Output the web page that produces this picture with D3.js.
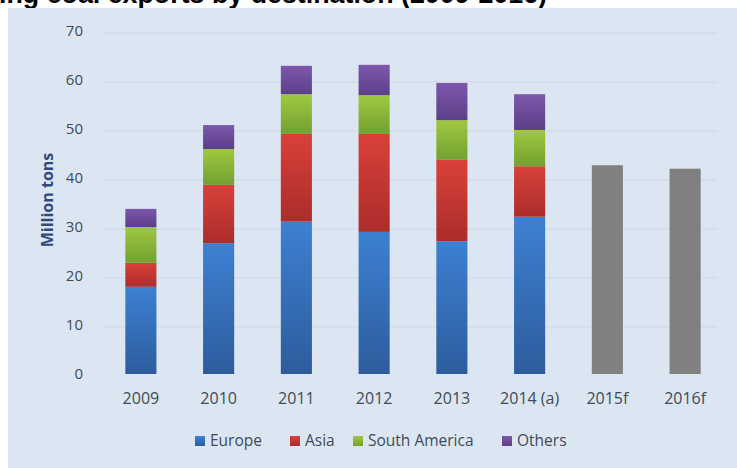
<!DOCTYPE html>
<html>
<head>
<meta charset="utf-8">
<script src="https://cdn.jsdelivr.net/npm/d3@7"></script>
<style>
  body { margin: 0; background: #fff; }
  svg { display: block; }
  .tick text { font-family: "Open Sans", sans-serif; font-size: 15px; fill: #404a58; }
  .xaxis .tick text { font-size: 16px; }
</style>
</head>
<body>
<div id="chart"></div>
<script>
// data (million tons)
var years = ['2009', '2010', '2011', '2012', '2013', '2014 (a)', '2015f', '2016f'];
var series = ['Europe', 'Asia', 'South America', 'Others'];
var europe = [17.8, 26.7, 31.1, 29.0, 27.1, 32.1, 0, 0];
var asia = [4.9, 11.9, 17.9, 20.0, 16.6, 10.3, 0, 0];
var southAmerica = [7.3, 7.3, 8.1, 7.9, 8.1, 7.4, 0, 0];
var others = [3.7, 4.9, 5.8, 6.2, 7.6, 7.3, 0, 0];
var forecast = [0, 0, 0, 0, 0, 0, 42.6, 41.9];
var yTicks = [0, 10, 20, 30, 40, 50, 60, 70];

var colors = {
    'Europe': ['#3d80d2', '#2d5c9c'],
    'Asia': ['#d9403a', '#ab2d2a'],
    'South America': ['#9fc840', '#73a030'],
    'Others': ['#7d57ab', '#5c3f88']
};

var W = 737, H = 468;
var svg = d3.select('#chart').append('svg').attr('width', W).attr('height', H);
var defs = svg.append('defs');

series.forEach(function (s, i) {
    var g = defs.append('linearGradient').attr('id', 'grad' + i)
        .attr('x1', 0).attr('y1', 0).attr('x2', 0).attr('y2', 1);
    g.append('stop').attr('offset', '0%').attr('stop-color', colors[s][0]);
    g.append('stop').attr('offset', '100%').attr('stop-color', colors[s][1]);
});

// title, cut off at the top edge
svg.append('text')
    .attr('x', -1).attr('y', 3)
    .style('font-family', 'Liberation Sans, Arial, sans-serif')
    .style('font-weight', 'bold').style('font-size', '26.8px')
    .attr('fill', '#000')
    .text('ing coal exports by destination (2009-2016)');

// panel
svg.append('rect').attr('x', 8).attr('y', 8).attr('width', W - 8).attr('height', H - 8)
    .attr('fill', '#dce6f2');

var plotLeft = 102, plotRight = 724, plotTop = 31, plotBottom = 374;

var x = d3.scaleBand().domain(years).range([plotLeft, plotRight]).paddingInner(0.6).paddingOuter(0.3);
var y = d3.scaleLinear().domain([0, 70]).range([plotBottom, plotTop]);

// gridlines
svg.append('g').selectAll('line').data(yTicks.filter(function (d) { return d > 0; }))
    .enter().append('line')
    .attr('x1', plotLeft).attr('x2', 717)
    .attr('y1', function (d) { return y(d) + 2; }).attr('y2', function (d) { return y(d) + 2; })
    .attr('stroke', '#d3dce8').attr('stroke-width', 1.5);

// y axis
var yAxis = svg.append('g').attr('transform', 'translate(83,0)')
    .call(d3.axisLeft(y).tickValues(yTicks).tickSize(0).tickPadding(0));
yAxis.select('.domain').remove();

// x axis
var xAxis = svg.append('g').attr('class', 'xaxis').attr('transform', 'translate(0,' + plotBottom + ')')
    .call(d3.axisBottom(x).tickSize(0).tickPadding(19));
xAxis.select('.domain').remove();

// stacked bars
var rows = years.map(function (yr, i) {
    return { year: yr, 'Europe': europe[i], 'Asia': asia[i], 'South America': southAmerica[i], 'Others': others[i] };
});
var stacked = d3.stack().keys(series)(rows);

svg.append('g').selectAll('g').data(stacked).enter().append('g')
    .attr('fill', function (d, i) { return 'url(#grad' + i + ')'; })
    .selectAll('rect').data(function (d) { return d.filter(function (p) { return p[1] - p[0] > 0; }); })
    .enter().append('rect')
    .attr('x', function (d) { return x(d.data.year); })
    .attr('width', x.bandwidth())
    .attr('y', function (d) { return y(d[1]); })
    .attr('height', function (d) { return y(d[0]) - y(d[1]); });

// forecast bars
svg.append('g').selectAll('rect').data(years.map(function (yr, i) { return { year: yr, v: forecast[i] }; })
    .filter(function (d) { return d.v > 0; }))
    .enter().append('rect')
    .attr('x', function (d) { return x(d.year); })
    .attr('width', x.bandwidth())
    .attr('y', function (d) { return y(d.v); })
    .attr('height', function (d) { return y(0) - y(d.v); })
    .attr('fill', '#808080');

// axis title
svg.append('text')
    .attr('transform', 'translate(47,200) rotate(-90)')
    .attr('text-anchor', 'middle').attr('dy', '0.35em')
    .style('font-family', '"Open Sans", sans-serif').style('font-weight', 'bold').style('font-size', '16px')
    .attr('fill', '#2f4b7c')
    .text('Million tons');

// legend
var legendX = [195, 290, 353, 502];
var legend = svg.append('g').selectAll('g').data(series).enter().append('g')
    .attr('transform', function (d, i) { return 'translate(' + legendX[i] + ',441)'; });
legend.append('rect').attr('x', 0).attr('y', -5).attr('width', 10).attr('height', 10)
    .attr('fill', function (d, i) { return 'url(#grad' + i + ')'; });
legend.append('text').attr('x', 15).attr('y', 0).attr('dy', '0.35em')
    .style('font-family', '"Open Sans", sans-serif').style('font-size', '15.5px')
    .attr('fill', '#404a58')
    .text(function (d) { return d; });
</script>
</body>
</html>
